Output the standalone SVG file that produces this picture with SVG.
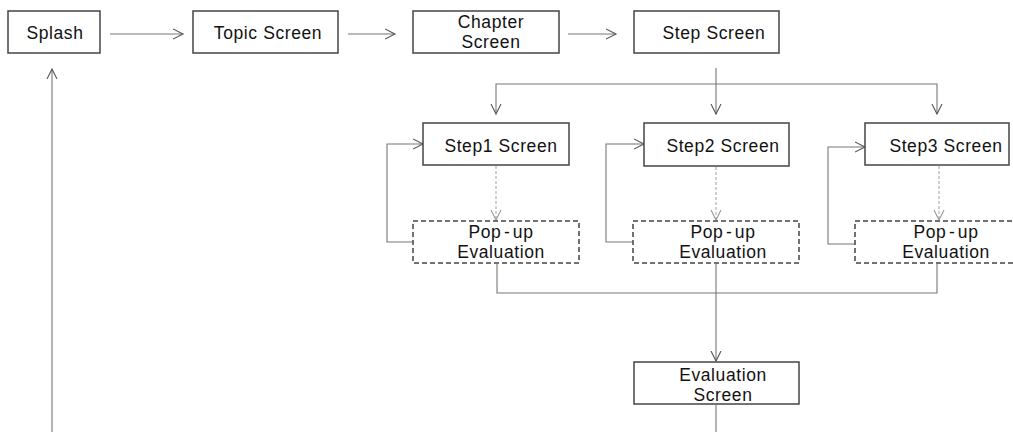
<svg xmlns="http://www.w3.org/2000/svg" width="1013" height="432" viewBox="0 0 1013 432">
<style>
.box{fill:#fff;stroke:#444;stroke-width:1.5}
.dbox{fill:#fff;stroke:#444;stroke-width:1.5;stroke-dasharray:5 3}
.t{font-family:"Liberation Sans",Arial,sans-serif;font-size:17.5px;letter-spacing:0.6px;fill:#111;text-anchor:middle}
.c{fill:none;stroke:#777;stroke-width:1.1}
.d{fill:none;stroke:#aaa;stroke-width:1.1;stroke-dasharray:3 2}
</style>
<defs>
<marker id="ah" markerUnits="userSpaceOnUse" markerWidth="12" markerHeight="12" refX="10" refY="5" orient="auto" viewBox="0 0 12 10">
<path d="M0,0 L10,5 L0,10" fill="none" stroke="#555" stroke-width="1.1"/>
</marker>
<marker id="ahd" markerUnits="userSpaceOnUse" markerWidth="12" markerHeight="12" refX="10" refY="5" orient="auto" viewBox="0 0 12 10">
<path d="M0,0 L10,5 L0,10" fill="none" stroke="#999" stroke-width="1.1"/>
</marker>
</defs>
<g id="connectors">
<path class="c" d="M110,34 H183" marker-end="url(#ah)"/>
<path class="c" d="M348,34 H395" marker-end="url(#ah)"/>
<path class="c" d="M568,34 H616" marker-end="url(#ah)"/>
<path class="c" d="M716,68 V84 H496 V114" marker-end="url(#ah)"/>
<path class="c" d="M716,84 V114" marker-end="url(#ah)"/>
<path class="c" d="M716,84 H937 V114" marker-end="url(#ah)"/>
<path class="d" d="M496,166 V220" marker-end="url(#ahd)"/>
<path class="d" d="M716,167 V220" marker-end="url(#ahd)"/>
<path class="d" d="M939,166 V220" marker-end="url(#ahd)"/>
<path class="c" d="M413,242 H387 V144 H423" marker-end="url(#ah)"/>
<path class="c" d="M633,242 H606 V144 H644" marker-end="url(#ah)"/>
<path class="c" d="M855,244 H828 V147 H865" marker-end="url(#ah)"/>
<path class="c" d="M497,264 V293 H937 V264"/>
<path class="c" d="M716,264 V361" marker-end="url(#ah)"/>
<path class="c" d="M716,405 V432"/>
<path class="c" d="M52,432 V69" marker-end="url(#ah)"/>
</g>
<g id="splash"><rect class="box" x="8" y="11" width="92" height="42"/><text class="t" x="55" y="39">Splash</text></g>
<g id="topic"><rect class="box" x="193" y="11" width="145" height="42"/><text class="t" x="268" y="39">Topic Screen</text></g>
<g id="chapter"><rect class="box" x="413" y="11" width="146" height="42"/><text class="t" x="491" y="28">Chapter<tspan x="491" dy="20.2">Screen</tspan></text></g>
<g id="step"><rect class="box" x="634" y="11" width="145" height="42"/><text class="t" x="714" y="39">Step Screen</text></g>
<g id="step1"><rect class="box" x="423" y="123" width="146" height="42"/><text class="t" x="501" y="152">Step1 Screen</text></g>
<g id="step2"><rect class="box" x="644" y="123" width="145" height="43"/><text class="t" x="723" y="152">Step2 Screen</text></g>
<g id="step3"><rect class="box" x="865" y="123" width="144" height="42"/><text class="t" x="946" y="152">Step3 Screen</text></g>
<g id="popup1"><rect class="dbox" x="413" y="221" width="166" height="42"/><text class="t" x="501" y="238"><tspan word-spacing="-3">Pop - up</tspan><tspan x="501" dy="20.2">Evaluation</tspan></text></g>
<g id="popup2"><rect class="dbox" x="633" y="221" width="166" height="42"/><text class="t" x="723" y="238"><tspan word-spacing="-3">Pop - up</tspan><tspan x="723" dy="20.2">Evaluation</tspan></text></g>
<g id="popup3"><rect class="dbox" x="855" y="221" width="166" height="42"/><text class="t" x="946" y="238"><tspan word-spacing="-3">Pop - up</tspan><tspan x="946" dy="20.2">Evaluation</tspan></text></g>
<g id="evaluation"><rect class="box" x="634" y="362" width="165" height="42"/><text class="t" x="723" y="381">Evaluation<tspan x="723" dy="20.2">Screen</tspan></text></g>
</svg>
